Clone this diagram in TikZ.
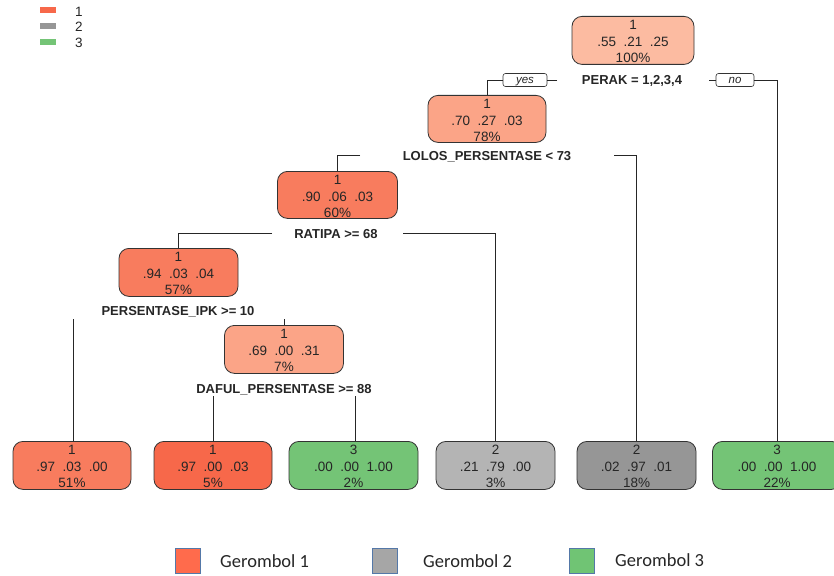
\documentclass[tikz,border=0pt]{standalone}
\usepackage{fontspec}
\setmainfont{Liberation Sans}
\newfontfamily\calfont{Carlito}
\definecolor{cRoot}{RGB}{252,187,161}
\definecolor{cMid}{RGB}{251,164,135}
\definecolor{cDeep}{RGB}{248,124,94}
\definecolor{cRed}{RGB}{247,104,74}
\definecolor{cGreen}{RGB}{116,196,118}
\definecolor{cGrayL}{RGB}{180,180,180}
\definecolor{cGrayD}{RGB}{150,150,150}
\definecolor{cLegRed}{RGB}{255,107,76}
\definecolor{cLegGray}{RGB}{166,166,166}
\definecolor{cLegGreen}{RGB}{112,196,116}
\definecolor{cLegEdge}{RGB}{84,120,168}
\newcommand\twosp{\hspace{0.556em}}
\tikzset{
  tbox/.style={draw=black!80, line width=0.8pt, rounded corners=10pt, inner sep=0pt, anchor=north},
  txt/.style={font=\fontsize{13.5}{16}\selectfont, inner sep=0pt, text height=9.7pt, text depth=0pt, anchor=center, text=black!85},
  rule/.style={font=\fontsize{13}{15}\selectfont\bfseries, inner sep=0pt, text height=9.4pt, text depth=0pt, text=black!85},
  tag/.style={draw=black!80, line width=0.6pt, rounded corners=2.5pt, inner sep=0pt, font=\fontsize{11.5}{13}\selectfont\itshape, text=black!85, text height=7pt, text depth=0pt},
  conn/.style={draw=black!85, line width=0.8pt},
  legsq/.style={draw=cLegEdge, line width=0.8pt, minimum width=25pt, minimum height=25pt, inner sep=0pt},
  legtxt/.style={font=\calfont\fontsize{18.5}{20}\selectfont, anchor=west, inner sep=0pt, text=black!85},
}
% name, cx, top, width, height, fill, line1, line2, line3
\newcommand\rnode[9]{%
  \node[tbox, fill=#6, minimum width=#4, minimum height=#5] (#1) at (#2,#3) {};
  \node[txt] (#1a) at (#2,#3+8.5) {#7};
  \node[txt] (#1b) at (#2,#3+25.5) {#8};
  \node[txt] (#1c) at (#2,#3+42) {#9};
}
\begin{document}
\begin{tikzpicture}[x=1pt,y=-1pt]
\clip (0,0) rectangle (834,575);
\fill[white] (0,0) rectangle (834,575);

% top-left legend
\fill[cRed] (40,7) rectangle (56,13);
\fill[cGrayD] (40,23) rectangle (56,29);
\fill[cGreen] (40,39) rectangle (56,45);
\node[txt] (k1) at (79,12) {1};
\node[txt] (k2) at (79,27) {2};
\node[txt] (k3) at (79,43) {3};

% internal nodes
\rnode{root}{633}{16}{122}{48}{cRoot}{1}{.55\twosp.21\twosp.25}{100\%}
\rnode{nb}{487}{95}{118}{47}{cMid}{1}{.70\twosp.27\twosp.03}{78\%}
\rnode{nc}{337.5}{171}{120}{47}{cDeep}{1}{.90\twosp.06\twosp.03}{60\%}
\rnode{nd}{178.5}{248}{119}{48}{cDeep}{1}{.94\twosp.03\twosp.04}{57\%}
\rnode{ne}{284}{325}{119}{48}{cMid}{1}{.69\twosp.00\twosp.31}{7\%}

% leaves
\rnode{la}{72}{441}{118}{48}{cDeep}{1}{.97\twosp.03\twosp.00}{51\%}
\rnode{lb}{213}{441}{118}{48}{cRed}{1}{.97\twosp.00\twosp.03}{5\%}
\rnode{lc}{353.5}{441}{129}{48}{cGreen}{3}{.00\twosp.00\twosp1.00}{2\%}
\rnode{ld}{495.5}{441}{119}{48}{cGrayL}{2}{.21\twosp.79\twosp.00}{3\%}
\rnode{le}{636.5}{441}{119}{48}{cGrayD}{2}{.02\twosp.97\twosp.01}{18\%}
\rnode{lf}{777}{441}{129}{48}{cGreen}{3}{.00\twosp.00\twosp1.00}{22\%}

% split rules
\node[rule] (r1) at (632,80) {PERAK = 1,2,3,4};
\node[rule] (r2) at (487,156) {LOLOS\_PERSENTASE < 73};
\node[rule] (r3) at (336,233.5) {RATIPA >= 68};
\node[rule] (r4) at (178,310.5) {PERSENTASE\_IPK >= 10};
\node[rule] (r5) at (284,388.5) {DAFUL\_PERSENTASE >= 88};

% yes / no tags
\node[tag, minimum width=44pt, minimum height=13pt] (yes) at (525,80) {yes};
\node[tag, minimum width=38pt, minimum height=13pt] (no) at (735,80) {no};

% free ends of connectors
\coordinate (p1l) at (557,80);
\coordinate (p1r) at (709,80);
\coordinate (p2l) at (360,155.5);
\coordinate (p2r) at (614,155.5);
\coordinate (p3l) at (272,233);
\coordinate (p3r) at (403,233);
\coordinate (p4l) at (73,319);
\coordinate (p4r) at (284,319);
\coordinate (p5l) at (213,396);
\coordinate (p5r) at (355,396);

% connectors
\draw[conn] (p1l) -- (yes.east);
\draw[conn] (yes.west) -| (nb.north);
\draw[conn] (p1r) -- (no.west);
\draw[conn] (no.east) -| (lf.north);
\draw[conn] (p2l) -| (nc.north);
\draw[conn] (p2r) -| (le.north -| 636,0);
\draw[conn] (p3l) -| (nd.north);
\draw[conn] (p3r) -| (ld.north);
\draw[conn] (p4l) -- (la.north -| p4l);
\draw[conn] (p4r) -- (ne.north);
\draw[conn] (p5l) -- (lb.north);
\draw[conn] (p5r) -- (lc.north -| p5r);

% bottom legend
\node[legsq, fill=cLegRed] (g1) at (187.5,560.5) {};
\node[legtxt] (g1t) at (220,561) {Gerombol 1};
\node[legsq, fill=cLegGray] (g2) at (384.5,560.5) {};
\node[legtxt] (g2t) at (423,561) {Gerombol 2};
\node[legsq, fill=cLegGreen] (g3) at (581.5,560.5) {};
\node[legtxt] (g3t) at (615,560) {Gerombol 3};
\end{tikzpicture}
\end{document}
